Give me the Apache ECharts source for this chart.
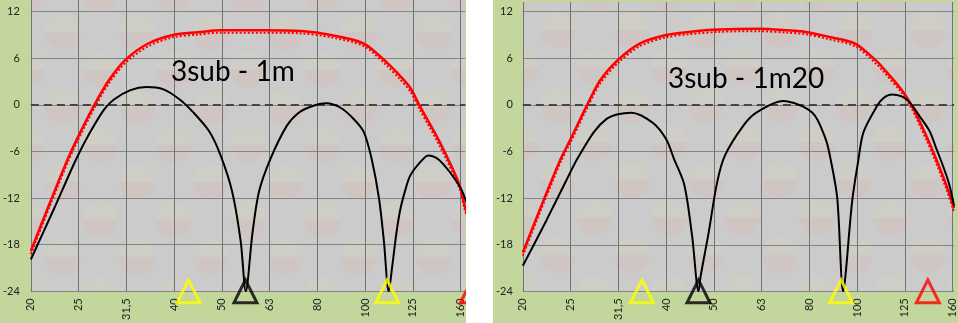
<!DOCTYPE html>
<html><head><meta charset="utf-8">
<script src="https://cdn.jsdelivr.net/npm/echarts@6/dist/echarts.min.js"></script>
<style>
html,body{margin:0;padding:0;background:#fff;width:958px;height:323px;overflow:hidden}
#c1{position:absolute;left:0;top:0;width:466px;height:323px;background:#c3d69b}
#c2{position:absolute;left:493px;top:0;width:465px;height:323px;background:#c3d69b}
</style></head><body>
<div id="c1"></div><div id="c2"></div>
<script>
// 1/3-octave band tick labels (French decimal comma)
const bandLabels = ['20','25','31,5','40','50','63','80','100','125','160'];
const yTicks = [-24,-18,-12,-6,0,6,12];

// ---- Left panel: 3sub - 1m ----
const leftTitle = '3sub - 1m';
const leftRedFreq = [20,21.9,23.9,25.0,27.2,29.2,31.6,35.3,39.8,44.9,50.1,61.2,74.1,85.5,100.2,112.2,119.5,125.4,131.5,144.7,159.2,163.1,170];
const leftRedDb   = [-18.8,-12.7,-7.0,-4.4,0.0,3.2,5.8,7.9,9.0,9.35,9.6,9.6,9.5,9.0,7.9,5.4,3.7,2.2,-0.2,-4.8,-10.3,-12.9,-16.5];
const leftRedDotDb= [-19.2,-13.1,-7.4,-4.8,-0.4,2.8,5.4,7.55,8.7,9.05,9.3,9.3,9.2,8.7,7.55,5.0,3.25,1.75,-0.65,-5.3,-10.8,-13.4,-17.0];
const leftBlackFreq = [20,22.4,24.9,26.6,28.5,29.9,32.4,35.0,38.0,41.1,43.8,47.4,50.1,53.0,55.2,56.6,58.4,60.3,63.7,69.0,73.1,77.7,83.5,89.7,95.5,100.2,104.1,107.8,110.4,113.0,115.1,117.3,119.5,122.4,125.4,131.5,136.9,142.0,147.0,155.5,161.5,170];
const leftBlackDb   = [-19.9,-13.3,-7.0,-3.6,-0.6,0.7,1.9,2.3,2.0,0.7,-0.9,-3.4,-6.5,-11.2,-17.5,-24,-16.7,-11.2,-7.0,-2.7,-1.0,-0.2,0.2,-0.4,-1.85,-3.5,-7.0,-12.0,-17.5,-24,-20.5,-16.5,-13.5,-11.0,-9.1,-7.4,-6.5,-6.8,-7.6,-9.5,-11.2,-15];
const leftYellowMarks = [42.9,112.2];
const leftBlackMarks  = [56.5];
const leftRedMarks    = [169];

// ---- Right panel: 3sub - 1m20 ----
const rightTitle = '3sub - 1m20';
const rightRedFreq = [20,21.9,24.0,25.2,27.3,29.1,31.7,35.2,40.0,44.7,51.6,62.5,72.2,78.7,87.4,99.9,111.0,113.6,124.9,131.1,141.0,147.9,155.2,161.2];
const rightRedDb   = [-19.0,-12.9,-7.0,-4.4,0.0,3.2,5.8,7.9,9.0,9.4,9.7,9.8,9.6,9.4,8.8,7.9,5.6,4.95,2.0,0.0,-4.0,-7.0,-10.3,-13.3];
const rightRedDotDb= [-19.4,-13.3,-7.4,-4.8,-0.4,2.8,5.4,7.55,8.7,9.1,9.4,9.5,9.3,9.1,8.5,7.55,5.2,4.55,1.6,-0.4,-4.5,-7.5,-10.8,-13.8];
const rightBlackFreq = [20,22.4,25.2,26.0,28.2,30.0,31.7,33.8,37.5,40.0,41.6,43.7,45.4,46.8,47.3,49.2,51.2,53.2,58.1,61.9,70.4,81.2,86.6,88.7,91.6,94.2,95.3,98.4,101.5,104.0,111.0,114.6,119.3,125.1,130.2,136.6,143.3,147.9,152.7,157.6,161.2];
const rightBlackDb   = [-20.7,-14.9,-8.6,-7.0,-3.5,-1.8,-1.2,-1.0,-2.3,-4.4,-7.0,-10.3,-17,-24,-22,-16.3,-10.0,-6.5,-2.7,-1.0,0.5,-1.0,-4.4,-7.0,-12.0,-24,-22,-12.5,-7.0,-3.5,-0.15,0.9,1.35,1.1,0.3,-1.5,-3.4,-5.6,-7.8,-10.3,-13.0];
const rightYellowMarks = [35.6,93.3];
const rightBlackMarks  = [46.8];
const rightRedMarks    = [142];

// frequency (Hz) -> position in 1/3-octave bands from 20 Hz
const toBand = f => 3 * Math.log2(f / 20);
const pairs = (fs, ds) => fs.map((f, i) => [toBand(f), ds[i]]);
const marks = fs => fs.map(f => [toBand(f), -24]);

const FONT = 'Lato';

// very faint decorative picture-fill texture of the plot area
function makePattern(cx, cy) {
  const W = 74, H = 75, R = 18;
  const cv = document.createElement('canvas'); cv.width = W; cv.height = H;
  const g = cv.getContext('2d');
  g.fillStyle = '#cbcbcb'; g.fillRect(0, 0, W, H);
  const centers = [[cx, cy], [(cx + 37) % W, (cy + 37.5) % H]];
  for (const [x0, y0] of centers) for (const dx of [-W, 0, W]) for (const dy of [-H, 0, H]) {
    const x = x0 + dx, y = y0 + dy;
    g.beginPath(); g.arc(x, y, R, Math.PI, 2 * Math.PI); g.closePath();
    g.fillStyle = 'rgba(226,230,172,0.14)'; g.fill();
    g.beginPath(); g.arc(x, y, R, 0, Math.PI); g.closePath();
    g.fillStyle = 'rgba(238,172,160,0.15)'; g.fill();
  }
  return { image: cv, repeat: 'repeat' };
}

function build(p) {
  const tri = (data, color) => ({
    type: 'scatter', data: marks(data), symbol: 'triangle', symbolSize: [23, 23],
    clip: false, z: 10, silent: true,
    itemStyle: { color: 'rgba(0,0,0,0)', borderColor: color, borderWidth: 3 }
  });
  const lineCommon = { showSymbol: false, smooth: 0.3, silent: true };
  return {
    animation: false,
    grid: { left: p.left, top: p.top, width: p.width, height: p.height, show: true,
            backgroundColor: p.bg, borderWidth: 0 },
    xAxis: { type: 'value', min: 0, max: p.xmax, interval: 1,
      axisLine: { show: false }, axisTick: { show: false },
      splitLine: { show: true, showMaxLine: false, lineStyle: { color: '#737373', width: 1 } },
      axisLabel: { rotate: 90, margin: 7, fontFamily: FONT, fontSize: 11, color: '#222',
        showMaxLabel: false,
        formatter: v => (Math.abs(v - Math.round(v)) < 1e-6 && bandLabels[Math.round(v)]) ? bandLabels[Math.round(v)] : '' } },
    yAxis: { type: 'value', min: -24, max: p.ymax, interval: 6,
      axisLine: { show: false }, axisTick: { show: false },
      splitLine: { show: true, showMaxLine: false, lineStyle: { color: '#858585', width: 1 } },
      axisLabel: { margin: p.ymargin, fontFamily: FONT, fontSize: 11, color: '#222', showMaxLabel: false,
        formatter: v => yTicks.includes(v) ? String(v) : '' } },
    graphic: [{ type: 'text', left: p.tx, top: p.ty, z: 20,
      style: { text: p.title, font: '28px Lato', fill: '#000' } }],
    series: [
      Object.assign({ type: 'line', data: pairs(p.redF, p.redDot), z: 3,
        lineStyle: { color: '#ff0000', width: 2, type: [2, 2] } }, lineCommon),
      Object.assign({ type: 'line', data: pairs(p.redF, p.red), z: 4,
        lineStyle: { color: '#ff0000', width: 2.5 } }, lineCommon),
      Object.assign({ type: 'line', data: pairs(p.blackF, p.black), z: 5,
        lineStyle: { color: '#000000', width: 2 },
        markLine: { silent: true, symbol: ['none', 'none'], label: { show: false },
          lineStyle: { color: '#454545', width: 2, type: [8, 5] }, data: [{ yAxis: 0 }] } }, lineCommon),
      tri(p.yellow, '#ffff00'), tri(p.blackM, '#000000'), tri(p.redM, '#ff0000')
    ]
  };
}

const c1 = echarts.init(document.getElementById('c1'), null, { renderer: 'canvas' });
c1.setOption(build({ left: 26, top: 0, width: 439.8, height: 294, xmax: 9.1, ymax: 13.5, ymargin: 11,
  bg: makePattern(63, 32),
  tx: 171, ty: 58, title: leftTitle,
  redF: leftRedFreq, red: leftRedDb, redDot: leftRedDotDb,
  blackF: leftBlackFreq, black: leftBlackDb,
  yellow: leftYellowMarks, blackM: leftBlackMarks, redM: leftRedMarks }));

const c2 = echarts.init(document.getElementById('c2'), null, { renderer: 'canvas' });
c2.setOption(build({ left: 28.7, top: 2, width: 436.3, height: 292, xmax: 9.033, ymax: 13.25, ymargin: 10,
  bg: makePattern(65, 30),
  tx: 175, ty: 65, title: rightTitle,
  redF: rightRedFreq, red: rightRedDb, redDot: rightRedDotDb,
  blackF: rightBlackFreq, black: rightBlackDb,
  yellow: rightYellowMarks, blackM: rightBlackMarks, redM: rightRedMarks }));
</script>
</body></html>
